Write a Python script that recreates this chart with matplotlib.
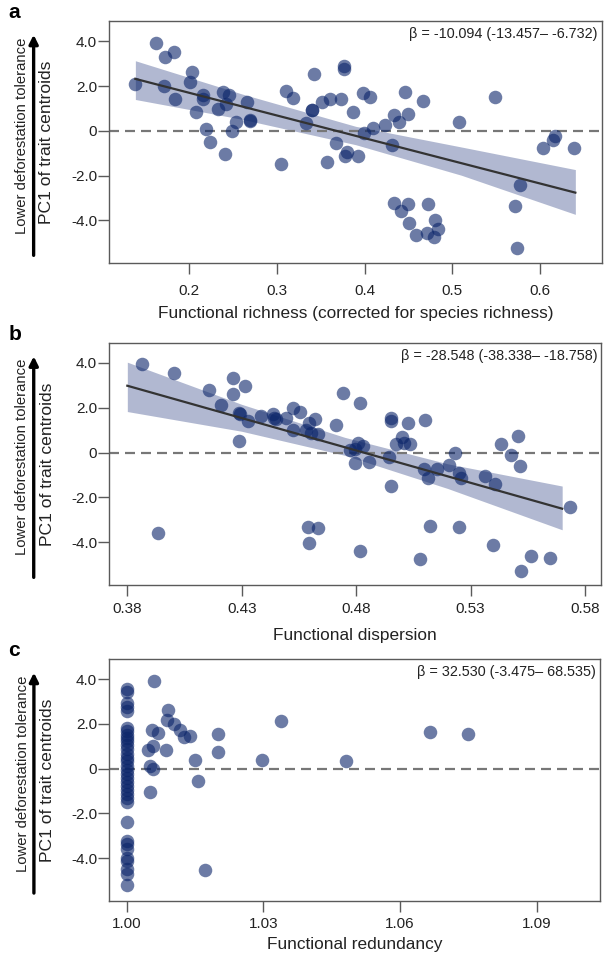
import matplotlib
matplotlib.use('Agg')
import matplotlib.pyplot as plt
import numpy as np

plt.rcParams['font.family'] = ['Liberation Sans', 'DejaVu Sans']

# panel a: functional richness
fr_x = [0.139, 0.162, 0.173, 0.183, 0.172, 0.184, 0.203, 0.201, 0.208, 0.216, 0.216, 0.219,
        0.224, 0.233, 0.239, 0.242, 0.246, 0.241, 0.249, 0.254, 0.266, 0.270, 0.270, 0.305,
        0.310, 0.319, 0.333, 0.340, 0.340, 0.342, 0.351, 0.361, 0.373, 0.377, 0.377, 0.368,
        0.357, 0.378, 0.380, 0.387, 0.398, 0.406, 0.399, 0.410, 0.392, 0.423, 0.433, 0.439,
        0.449, 0.446, 0.466, 0.431, 0.434, 0.441, 0.450, 0.451, 0.459, 0.472, 0.471, 0.480,
        0.484, 0.479, 0.508, 0.549, 0.577, 0.571, 0.574, 0.603, 0.615, 0.617, 0.639]
fr_y = [2.10, 3.92, 3.28, 3.50, 1.98, 1.40, 2.61, 2.16, 0.82, 1.58, 1.41, 0.08,
        -0.48, 0.99, 1.73, 1.18, 1.58, -1.04, -0.02, 0.39, 1.28, 0.47, 0.45, -1.50,
        1.80, 1.47, 0.35, 0.91, 0.95, 2.56, 1.30, 1.40, 1.41, 2.90, 2.76, -0.56,
        -1.39, -1.13, -0.94, 0.84, 1.68, 1.53, -0.10, 0.14, -1.13, 0.27, 0.72, 0.38,
        0.73, 1.73, 1.33, -0.62, -3.24, -3.58, -3.27, -4.10, -4.64, -3.28, -4.54, -3.98,
        -4.39, -4.72, 0.39, 1.53, -2.42, -3.34, -5.24, -0.76, -0.42, -0.23, -0.75]
fit_a_x = [0.139, 0.640]
fit_a_y = [2.32, -2.76]
band_a_x = [0.139, 0.26, 0.39, 0.51, 0.640]
band_a_hi = [3.13, 1.65, 0.20, -0.72, -1.73]
band_a_lo = [1.40, 0.52, -0.62, -1.98, -3.73]

# panel b: functional dispersion
fd_x = [0.3864, 0.4004, 0.4157, 0.4210, 0.4260, 0.4260, 0.4312, 0.4290, 0.4293, 0.4327,
        0.4287, 0.4386, 0.4435, 0.4442, 0.4450, 0.4493, 0.4524, 0.4556, 0.4524, 0.4595,
        0.4621, 0.4582, 0.4604, 0.4632, 0.4713, 0.4741, 0.3933, 0.4589, 0.4635, 0.4592,
        0.4775, 0.4818, 0.4950, 0.4950, 0.5025, 0.5100, 0.5001, 0.5008, 0.4975, 0.5037,
        0.4806, 0.4830, 0.4796, 0.4796, 0.4855, 0.4942, 0.4950, 0.5095, 0.5113, 0.5154,
        0.5205, 0.5231, 0.5249, 0.5259, 0.5362, 0.5405, 0.5431, 0.5478, 0.5507, 0.5514,
        0.5733, 0.5121, 0.5249, 0.5399, 0.5565, 0.5645, 0.5519, 0.5078, 0.4818]
fd_y = [3.95, 3.55, 2.80, 2.13, 3.31, 2.59, 2.95, 1.76, 1.72, 1.43,
        0.50, 1.61, 1.73, 1.56, 1.50, 1.53, 1.98, 1.83, 1.01, 1.34,
        1.49, 1.01, 0.89, 0.83, 1.23, 2.65, -3.60, -3.30, -3.36, -4.03,
        0.11, 2.21, 1.56, 1.42, 1.31, 1.46, 0.71, 0.41, 0.38, 0.37,
        0.41, 0.29, 0.14, -0.46, -0.41, -0.19, -1.50, -0.74, -1.11, -0.75,
        -0.56, -0.01, -0.93, -1.11, -1.04, -1.38, 0.38, -0.11, 0.74, -0.61,
        -2.43, -3.28, -3.33, -4.12, -4.60, -4.70, -5.27, -4.74, -4.40]
fit_b_x = [0.380, 0.570]
fit_b_y = [2.98, -2.50]
band_b_x = [0.380, 0.43, 0.475, 0.52, 0.570]
band_b_hi = [4.03, 2.15, 0.68, -0.50, -1.49]
band_b_lo = [1.83, 0.95, -0.12, -1.60, -3.44]

# panel c: functional redundancy
fred_x = [1.0] * 34 + [1.0060, 1.0091, 1.0088, 1.0104, 1.0117, 1.0126, 1.0139, 1.0055,
                       1.0069, 1.0057, 1.0047, 1.0086, 1.0051, 1.0057, 1.0051, 1.0150,
                       1.0157, 1.0200, 1.0200, 1.0172, 1.0298, 1.0338, 1.0481, 1.0666, 1.0750]
fred_y = [3.56, 3.41, 2.93, 2.75, 2.56, 1.82, 1.67, 1.52, 1.37, 1.22, 1.07, 0.88, 0.67,
          0.48, 0.33, 0.13, -0.04, -0.22, -0.42, -0.61, -0.79, -0.94, -1.12, -1.31, -1.50,
          -2.40, -3.24, -3.35, -3.59, -3.99, -4.14, -4.48, -4.69, -5.22,
          3.93, 2.63, 2.19, 2.01, 1.71, 1.41, 1.47, 1.71,
          1.59, 1.03, 0.85, 0.85, 0.10, 0.00, -1.04, 0.40,
          -0.54, 1.55, 0.74, -4.54, 0.40, 2.11, 0.33, 1.62, 1.55]

betas = ['β = -10.094 (-13.457– -6.732)',
         'β = -28.548 (-38.338– -18.758)',
         'β = 32.530 (-3.475– 68.535)']
xlabels = ['Functional richness (corrected for species richness)',
           'Functional dispersion',
           'Functional redundancy']
yticks = [4, 2, 0, -2, -4]
ytick_labels = ['4.0', '2.0', '0', '-2.0', '-4.0']
xtick_pads = [7, 4, 4]
xlabel_pads = [6, 9, 4]

dot_color = (0.04, 0.14, 0.41)
band_color = (0.24, 0.31, 0.55)
spine_color = '#5a5a5a'
text_color = '#222222'

fig = plt.figure(figsize=(6.09, 9.59), dpi=100)
ax_a = fig.add_axes([0.179, 0.7258, 0.809, 0.2522])
ax_b = fig.add_axes([0.179, 0.39, 0.808, 0.2527])
ax_c = fig.add_axes([0.179, 0.0608, 0.806, 0.252])
axes = [ax_a, ax_b, ax_c]

ax_a.scatter(fr_x, fr_y, s=95, color=dot_color, alpha=0.6, linewidths=0, zorder=3)
ax_a.fill_between(band_a_x, band_a_lo, band_a_hi, color=band_color, alpha=0.4, linewidth=0, zorder=1)
ax_a.plot(fit_a_x, fit_a_y, color='#333333', lw=1.6, zorder=4)
ax_a.set_xlim(0.109, 0.67)
ax_a.set_xticks([0.2, 0.3, 0.4, 0.5, 0.6])
ax_a.set_xticklabels(['0.2', '0.3', '0.4', '0.5', '0.6'])

ax_b.scatter(fd_x, fd_y, s=95, color=dot_color, alpha=0.6, linewidths=0, zorder=3)
ax_b.fill_between(band_b_x, band_b_lo, band_b_hi, color=band_color, alpha=0.4, linewidth=0, zorder=1)
ax_b.plot(fit_b_x, fit_b_y, color='#333333', lw=1.6, zorder=4)
ax_b.set_xlim(0.372, 0.587)
ax_b.set_xticks([0.38, 0.43, 0.48, 0.53, 0.58])
ax_b.set_xticklabels(['0.38', '0.43', '0.48', '0.53', '0.58'])

ax_c.scatter(fred_x, fred_y, s=95, color=dot_color, alpha=0.6, linewidths=0, zorder=3)
ax_c.set_xlim(0.9961, 1.1039)
ax_c.set_xticks([1.00, 1.03, 1.06, 1.09])
ax_c.set_xticklabels(['1.00', '1.03', '1.06', '1.09'])

for ax, letter, beta, xl, tp, lp in zip(axes, 'abc', betas, xlabels, xtick_pads, xlabel_pads):
    ax.set_ylim(-5.9, 4.9)
    ax.set_yticks(yticks)
    ax.set_yticklabels(ytick_labels)
    ax.axhline(0, color='#777777', lw=1.6, dashes=(4.5, 2.7), zorder=2)
    for sp in ax.spines.values():
        sp.set_color(spine_color)
        sp.set_linewidth(1.0)
    ax.tick_params(direction='out', length=8, width=1.0, color=spine_color,
                   labelsize=11, labelcolor=text_color)
    ax.tick_params(axis='y', pad=0.5)
    ax.tick_params(axis='x', pad=tp)
    ax.set_xlabel(xl, fontsize=12.4, color=text_color, labelpad=lp)
    ax.text(0.992, 0.975, beta, transform=ax.transAxes, ha='right', va='top',
            fontsize=10.4, color=text_color)
    ax.text(-0.205, 1.035, letter, transform=ax.transAxes, ha='left', va='center',
            fontsize=15, fontweight='bold')
    # y label with direction arrow
    ax.annotate('', xy=(-0.153, 0.955), xytext=(-0.153, 0.02), xycoords='axes fraction',
                arrowprops=dict(arrowstyle='-|>', color='black', lw=2.4, mutation_scale=13),
                annotation_clip=False)
    ax.text(-0.176, 0.527, 'Lower deforestation tolerance', transform=ax.transAxes,
            rotation=90, ha='center', va='center', fontsize=10.7, color=text_color)
    ax.text(-0.126, 0.50, 'PC1 of trait centroids', transform=ax.transAxes,
            rotation=90, ha='center', va='center', fontsize=12.6, color=text_color)

fig.savefig('out.png', dpi=100)
